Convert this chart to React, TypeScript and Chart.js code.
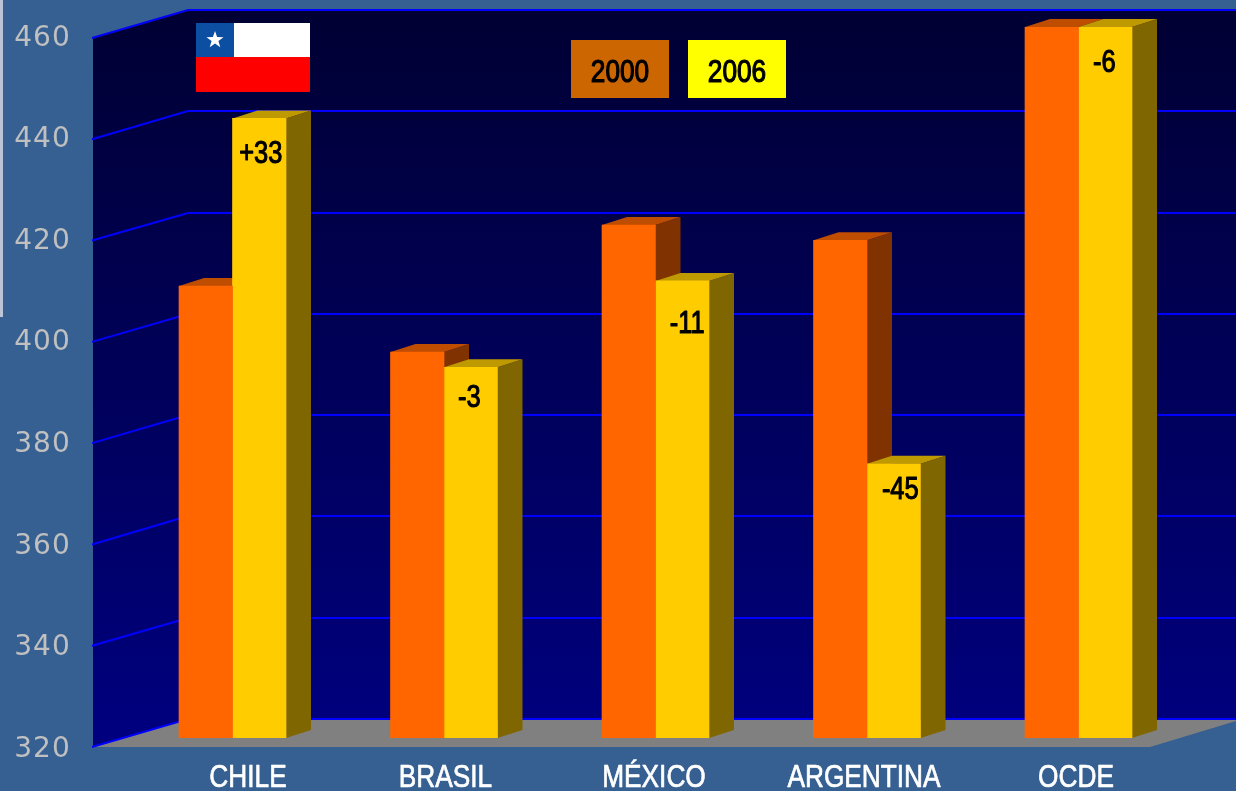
import React, { useEffect, useRef } from "react";
import { Chart, registerables } from "chart.js";

Chart.register(...registerables);

const categories = ["CHILE", "BRASIL", "MÉXICO", "ARGENTINA", "OCDE"];
const values2000 = [409, 396, 421, 418, 460];
const values2006 = [442, 393, 410, 374, 460];
const changeLabels = ["+33", "-3", "-11", "-45", "-6"];
const seriesNames = ["2000", "2006"];
const yTicks = [320, 340, 360, 380, 400, 420, 440, 460];

// Appearance of the pseudo-3D box, kept apart from the data
const frontColors = ["#ff6600", "#ffcc00"];
const topColors = ["#bf4d00", "#bf9900"];
const sideColors = ["#803300", "#806600"];
const legendColors = ["#cc6600", "#ffff00"];
const barDepth = { dx: 25, dy: -8 };
const room = { frontX: 93, backX: 188, floorFrontY: 747, floorBackY: 719, floorCornerX: 1150, floorRightY: 721 };
const changeDrop = [45, 40, 52, 35, 45];
const changeNudge = [1.5, -1.5, 5, 6.5, -1];
const categoryNudge = [15.5, 1.5, -1.5, -3, -2.5];
const NARROW = 0.82;

function narrowText(ctx: any, text: string, x: number, y: number, weight = 0) {
  ctx.save();
  ctx.translate(x, y);
  ctx.scale(NARROW, 1);
  if (weight > 0) {
    ctx.lineWidth = weight;
    ctx.lineJoin = "round";
    ctx.strokeStyle = ctx.fillStyle;
    ctx.strokeText(text, 0, 0);
  }
  ctx.fillText(text, 0, 0);
  ctx.restore();
}

const roomPlugin = {
  id: "room",
  beforeDraw(chart: any) {
    const { ctx, width, height, scales } = chart;
    const y = scales.y;
    const bottom = y.getPixelForValue(yTicks[0]);
    const k = 709 / (bottom - y.getPixelForValue(yTicks[yTicks.length - 1]));
    const wallY = (v: number) => Math.round(room.floorBackY + (y.getPixelForValue(v) - bottom) * k);
    const frontY = (v: number) => room.floorFrontY + (y.getPixelForValue(v) - bottom) * k;
    const topV = yTicks[yTicks.length - 1];

    ctx.save();
    ctx.fillStyle = "#376092";
    ctx.fillRect(0, 0, width, height);
    ctx.fillStyle = "#bcc4d8";
    ctx.fillRect(0, 0, 3, 317);

    const grad = ctx.createLinearGradient(0, wallY(topV), 0, room.floorFrontY);
    grad.addColorStop(0, "#000033");
    grad.addColorStop(1, "#000080");
    ctx.fillStyle = grad;
    ctx.beginPath();
    ctx.moveTo(room.frontX, frontY(topV));
    ctx.lineTo(room.backX, wallY(topV));
    ctx.lineTo(width, wallY(topV));
    ctx.lineTo(width, room.floorBackY);
    ctx.lineTo(room.backX, room.floorBackY);
    ctx.lineTo(room.frontX, room.floorFrontY);
    ctx.closePath();
    ctx.fill();

    ctx.fillStyle = "#808080";
    ctx.beginPath();
    ctx.moveTo(room.frontX, room.floorFrontY);
    ctx.lineTo(room.backX, room.floorBackY);
    ctx.lineTo(width, room.floorBackY);
    ctx.lineTo(width, room.floorRightY);
    ctx.lineTo(room.floorCornerX, room.floorFrontY);
    ctx.closePath();
    ctx.fill();

    ctx.strokeStyle = "#0000ff";
    ctx.lineWidth = 2;
    for (const v of yTicks) {
      ctx.beginPath();
      ctx.moveTo(room.frontX - 1, frontY(v));
      ctx.lineTo(room.backX, wallY(v));
      ctx.lineTo(width, wallY(v));
      ctx.stroke();
    }

    // Chilean flag
    ctx.fillStyle = "#ffffff";
    ctx.fillRect(196, 23, 114, 34);
    ctx.fillStyle = "#ff0000";
    ctx.fillRect(196, 57, 114, 35);
    ctx.fillStyle = "#0b4ea2";
    ctx.fillRect(196, 23, 38, 34);
    ctx.fillStyle = "#ffffff";
    ctx.beginPath();
    for (let i = 0; i < 10; i++) {
      const r = i % 2 ? 3.6 : 9;
      const a = -Math.PI / 2 + (i * Math.PI) / 5;
      ctx.lineTo(215 + r * Math.cos(a), 40 + r * Math.sin(a));
    }
    ctx.closePath();
    ctx.fill();

    // Legend
    const boxes = [571, 688];
    ctx.font = "32px 'Liberation Sans'";
    ctx.textAlign = "center";
    ctx.textBaseline = "alphabetic";
    chart.data.datasets.forEach((ds: any, i: number) => {
      ctx.fillStyle = legendColors[i];
      ctx.fillRect(boxes[i], 40, 98, 58);
      ctx.fillStyle = "#000000";
      narrowText(ctx, ds.label, boxes[i] + 49, 82, 1.2);
    });
    ctx.restore();

    // Wider digit spacing for the value axis labels only
    ctx.letterSpacing = "1px";
  },
  beforeDatasetsDraw(chart: any) {
    const { ctx } = chart;
    ctx.letterSpacing = "0px";
    ctx.save();
    chart.data.datasets.forEach((_: any, d: number) => {
      chart.getDatasetMeta(d).data.forEach((bar: any) => {
        const { x, y, base, width } = bar.getProps(["x", "y", "base", "width"], true);
        const l = x - width / 2;
        const r = x + width / 2;
        ctx.fillStyle = sideColors[d];
        ctx.beginPath();
        ctx.moveTo(r, y);
        ctx.lineTo(r + barDepth.dx, y + barDepth.dy);
        ctx.lineTo(r + barDepth.dx, base + barDepth.dy);
        ctx.lineTo(r, base);
        ctx.closePath();
        ctx.fill();
        ctx.fillStyle = topColors[d];
        ctx.beginPath();
        ctx.moveTo(l, y);
        ctx.lineTo(l + barDepth.dx, y + barDepth.dy);
        ctx.lineTo(r + barDepth.dx, y + barDepth.dy);
        ctx.lineTo(r, y);
        ctx.closePath();
        ctx.fill();
      });
    });
    ctx.restore();
  },
  afterDatasetsDraw(chart: any) {
    const { ctx, scales } = chart;
    ctx.save();
    ctx.textAlign = "center";
    ctx.textBaseline = "alphabetic";
    ctx.fillStyle = "#000000";
    ctx.font = "31px 'Liberation Sans'";
    chart.getDatasetMeta(1).data.forEach((bar: any, i: number) => {
      narrowText(ctx, changeLabels[i], bar.x + changeNudge[i], bar.y + changeDrop[i], 1.1);
    });
    ctx.fillStyle = "#ffffff";
    ctx.font = "32px 'Liberation Sans'";
    categories.forEach((c, i) => {
      narrowText(ctx, c, scales.x.getPixelForValue(i) + categoryNudge[i], 787, 0.7);
    });
    ctx.restore();
  },
};

export default function App() {
  const ref = useRef<HTMLCanvasElement>(null);
  useEffect(() => {
    const chart = new Chart(ref.current as HTMLCanvasElement, {
      type: "bar",
      data: {
        labels: categories,
        datasets: [
          { label: seriesNames[0], data: values2000, backgroundColor: frontColors[0], barThickness: 53.5, base: 320 },
          { label: seriesNames[1], data: values2006, backgroundColor: frontColors[1], barThickness: 53.5, base: 320 },
        ],
      },
      options: {
        animation: false,
        responsive: false,
        layout: { autoPadding: false, padding: { left: 0, right: 51.75, top: 27, bottom: 0 } },
        plugins: { legend: { display: false }, tooltip: { enabled: false } },
        scales: {
          x: {
            grid: { display: false },
            border: { display: false },
            ticks: { display: false },
            afterFit: (s: any) => { s.height = 53; },
          },
          y: {
            min: 320,
            max: 460,
            grid: { display: false, drawTicks: false },
            border: { display: false },
            afterFit: (s: any) => {
              s.width = 126.75;
              s.paddingTop = 0;
              s.paddingBottom = 0;
              s._margins = { left: 0, right: 0, top: 0, bottom: 0 };
            },
            afterBuildTicks: (s: any) => { s.ticks = yTicks.map((value) => ({ value })); },
            ticks: {
              padding: 56,
              labelOffset: 11.5,
              color: "#c0c0c0",
              font: { family: "'DejaVu Sans'", size: 28 },
            },
          },
        },
      } as any,
      plugins: [roomPlugin],
    });
    return () => chart.destroy();
  }, []);
  return (
    <div style={{ position: "absolute", left: 0, top: 0, width: 1236, height: 791, overflow: "hidden" }}>
      <canvas ref={ref} width={1236} height={791} style={{ display: "block" }} />
    </div>
  );
}
